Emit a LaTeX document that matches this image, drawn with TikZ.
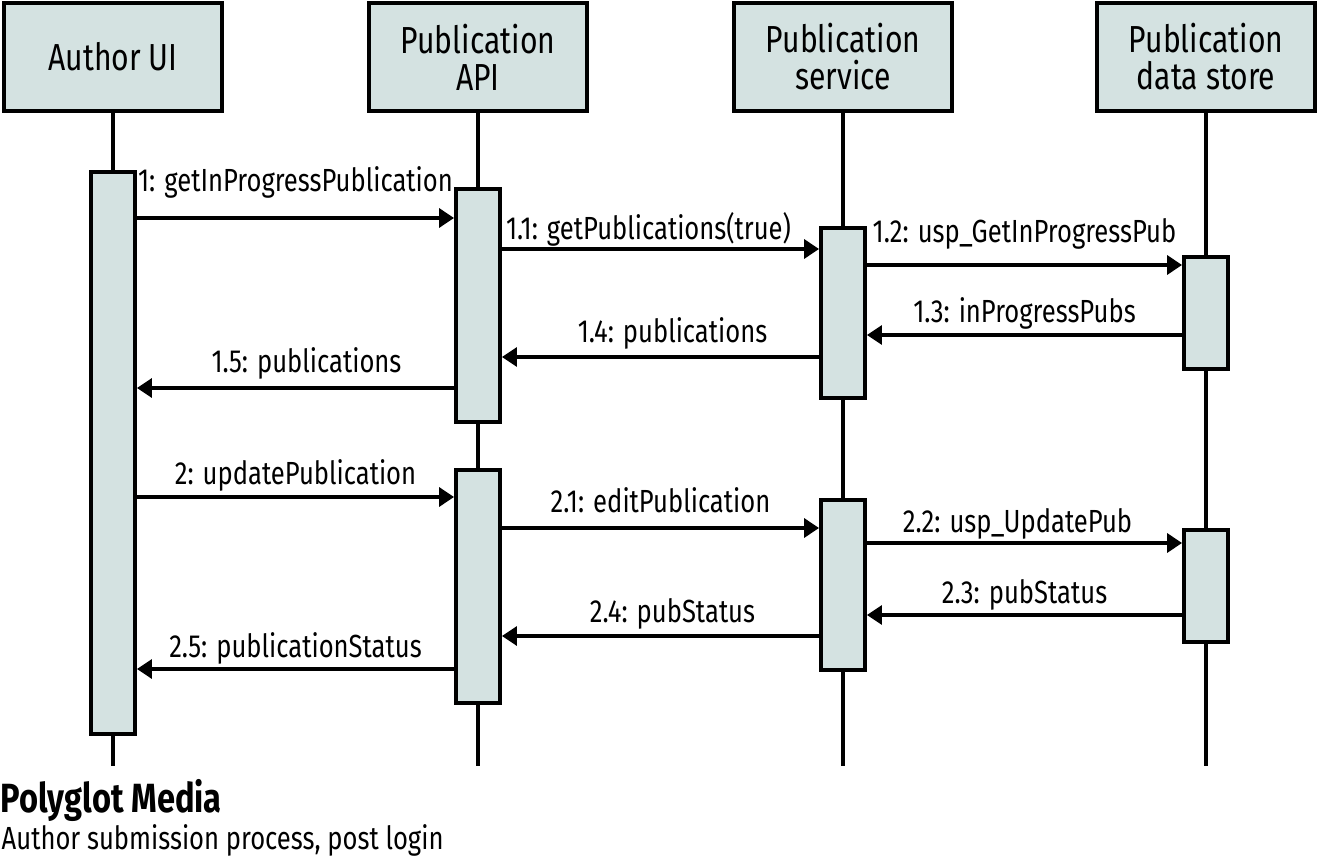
\documentclass[tikz,border=0pt]{standalone}
\usepackage{fontspec}
\setmainfont{Fira Sans}[FakeStretch=0.8]
\usetikzlibrary{arrows.meta}
\definecolor{boxfill}{RGB}{212,226,225}

\begin{document}
\begin{tikzpicture}[x=0.01cm, y=-0.01cm,
    head/.style = {draw, line width=1.1pt, fill=boxfill,
      minimum width=2.18cm, minimum height=1.08cm,
      align=center, inner sep=0pt,
      font=\fontsize{10.7}{10.5}\selectfont},
    act/.style = {draw, line width=1.1pt, fill=boxfill,
      minimum width=0.44cm, inner sep=0pt, anchor=north},
    life/.style = {line width=0.95pt},
    msg/.style = {line width=0.95pt, -{Triangle[length=0.15cm, width=0.19cm]}},
    lbl/.style = {anchor=base, inner sep=0pt, midway,
      font=\fontsize{9.1}{10}\selectfont}]
    \useasboundingbox (0,0) rectangle (1319,861);

    % participants
    \node[head] (ui) at (113,57) {Author UI};
    \node[head] (api) at (478,57) {Publication\\API};
    \node[head] (svc) at (843,57) {Publication\\service};
    \node[head] (store) at (1206,57) {Publication\\data store};

    % lifelines
    \coordinate (ui-end) at (113,766);
    \coordinate (api-end) at (478,766);
    \coordinate (svc-end) at (843,766);
    \coordinate (store-end) at (1206,766);
    \draw[life] (ui) -- (ui-end);
    \draw[life] (api) -- (api-end);
    \draw[life] (svc) -- (svc-end);
    \draw[life] (store) -- (store-end);

    % activations
    \node[act, minimum height=5.62cm] (ui-a) at (113,170) {};
    \node[act, minimum height=2.33cm] (api-a1) at (478,187) {};
    \node[act, minimum height=1.70cm] (svc-a1) at (843,226) {};
    \node[act, minimum height=1.12cm] (store-a1) at (1206,255) {};
    \node[act, minimum height=2.33cm] (api-a2) at (478,468) {};
    \node[act, minimum height=1.70cm] (svc-a2) at (843,498) {};
    \node[act, minimum height=1.12cm] (store-a2) at (1206,528) {};

    % first call
    \draw[msg] (ui-a.east |- 0,218) -- (api-a1.west |- 0,218)
      node[lbl, yshift=0.26cm] {1: getInProgressPublication};
    \draw[msg] (api-a1.east |- 0,249) -- (svc-a1.west |- 0,249)
      node[lbl, yshift=0.09cm, xshift=-0.12cm] {1.1: getPublications(true)};
    \draw[msg] (svc-a1.east |- 0,265) -- (store-a1.west |- 0,265)
      node[lbl, yshift=0.22cm] {1.2: usp\_GetInProgressPub};
    \draw[msg] (store-a1.west |- 0,335) -- (svc-a1.east |- 0,335)
      node[lbl, yshift=0.12cm] {1.3: inProgressPubs};
    \draw[msg] (svc-a1.west |- 0,357) -- (api-a1.east |- 0,357)
      node[lbl, yshift=0.14cm, xshift=0.12cm] {1.4: publications};
    \draw[msg] (api-a1.west |- 0,388) -- (ui-a.east |- 0,388)
      node[lbl, yshift=0.15cm, xshift=0.11cm] {1.5: publications};

    % second call
    \draw[msg] (ui-a.east |- 0,497) -- (api-a2.west |- 0,497)
      node[lbl, yshift=0.12cm] {2: updatePublication};
    \draw[msg] (api-a2.east |- 0,528) -- (svc-a2.west |- 0,528)
      node[lbl, yshift=0.15cm] {2.1: editPublication};
    \draw[msg] (svc-a2.east |- 0,543) -- (store-a2.west |- 0,543)
      node[lbl, yshift=0.10cm, xshift=-0.07cm] {2.2: usp\_UpdatePub};
    \draw[msg] (store-a2.west |- 0,615) -- (svc-a2.east |- 0,615)
      node[lbl, yshift=0.12cm] {2.3: pubStatus};
    \draw[msg] (svc-a2.west |- 0,636) -- (api-a2.east |- 0,636)
      node[lbl, yshift=0.13cm, xshift=0.12cm] {2.4: pubStatus};
    \draw[msg] (api-a2.west |- 0,669) -- (ui-a.east |- 0,669)
      node[lbl, yshift=0.12cm] {2.5: publicationStatus};

    % caption
    \node[anchor=base west, inner sep=0pt, font=\fontsize{11.6}{12}\selectfont\bfseries]
      (title) at (0,812) {Polyglot Media};
    \node[anchor=base west, inner sep=0pt, font=\fontsize{9.1}{11}\selectfont]
      (subtitle) at (1,849) {Author submission process, post login};
\end{tikzpicture}
\end{document}
